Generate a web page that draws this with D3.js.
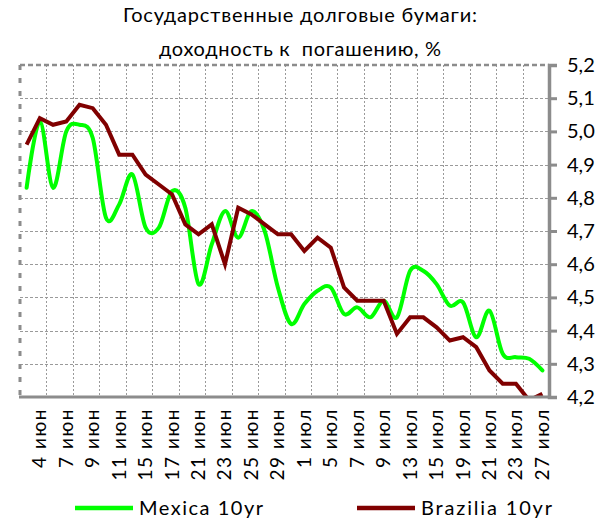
<!DOCTYPE html>
<html>
<head>
<meta charset="utf-8">
<script src="https://cdn.jsdelivr.net/npm/d3@7"></script>
<style>
  html, body { margin: 0; padding: 0; background: #fff; }
  svg { display: block; }
  text { font-family: Lato, "Open Sans", sans-serif; fill: #000; }
  text.title { white-space: pre; }
</style>
</head>
<body>
<svg id="chart" width="606" height="524"></svg>
<script>
const titleLines = ["Государственные долговые бумаги:", "доходность к  погашению, %"];

const categories = [
  "3 июн","4 июн","6 июн","7 июн","8 июн","9 июн","10 июн","11 июн","14 июн","15 июн",
  "16 июн","17 июн","18 июн","21 июн","22 июн","23 июн","24 июн","25 июн","28 июн","29 июн",
  "30 июн","1 июл","2 июл","5 июл","6 июл","7 июл","8 июл","9 июл","12 июл","13 июл",
  "14 июл","15 июл","16 июл","19 июл","20 июл","21 июл","22 июл","23 июл","26 июл","27 июл"
];

const tickLabels = [
  "4 июн","7 июн","9 июн","11 июн","15 июн","17 июн","21 июн","23 июн","25 июн","29 июн",
  "1 июл","5 июл","7 июл","9 июл","13 июл","15 июл","19 июл","21 июл","23 июл","27 июл"
];

const yTicks = [4.2, 4.3, 4.4, 4.5, 4.6, 4.7, 4.8, 4.9, 5.0, 5.1, 5.2];

const seriesNames = ["Mexica 10yr", "Brazilia 10yr"];

const mexico = [
  4.83, 5.03, 4.83, 5.00, 5.02, 4.98, 4.74, 4.78, 4.87, 4.71,
  4.71, 4.82, 4.77, 4.54, 4.66, 4.76, 4.68, 4.76, 4.70, 4.53,
  4.42, 4.48, 4.52, 4.53, 4.45, 4.47, 4.44, 4.49, 4.44, 4.58,
  4.58, 4.54, 4.475, 4.485, 4.38, 4.46, 4.33, 4.32, 4.315, 4.28
];

const brazil = [
  4.96, 5.04, 5.02, 5.03, 5.08, 5.07, 5.02, 4.93, 4.93, 4.87,
  4.84, 4.81, 4.72, 4.69, 4.72, 4.60, 4.77, 4.75, 4.72, 4.69,
  4.69, 4.64, 4.68, 4.65, 4.53, 4.49, 4.49, 4.49, 4.39, 4.44,
  4.44, 4.41, 4.37, 4.38, 4.35, 4.28, 4.24, 4.24, 4.19, 4.21
];

const colors = ["#00ff00", "#800000"];

const svg = d3.select("#chart");
const L = 20, R = 549, T = 65, B = 397;

const x = d3.scaleBand().domain(categories).range([L, R]).padding(0);
const y = d3.scaleLinear().domain([4.2, 5.2]).range([B, T]);
const cx = c => x(c) + x.bandwidth() / 2;

// title
svg.selectAll("text.title").data(titleLines).join("text")
  .attr("class", "title")
  .attr("x", 300)
  .attr("y", (d, i) => i === 0 ? 22 : 56)
  .attr("text-anchor", "middle")
  .attr("font-size", 20)
  .attr("textLength", (d, i) => i === 0 ? 354 : 282)
  .attr("lengthAdjust", "spacing")
  .text(d => d);

// horizontal grid
svg.append("g")
  .selectAll("line").data(yTicks.filter(v => v > 4.2 && v < 5.2)).join("line")
  .attr("x1", L).attr("x2", R)
  .attr("y1", d => Math.round(y(d)) + 0.5).attr("y2", d => Math.round(y(d)) + 0.5)
  .attr("stroke", "#9a9a9a").attr("stroke-width", 1)
  .attr("stroke-dasharray", "3,2");

// vertical grid (every second category boundary)
const vBounds = categories.filter((c, i) => i > 0 && i % 2 === 0);
svg.append("g")
  .selectAll("line").data(vBounds).join("line")
  .attr("x1", d => Math.round(x(d)) + 0.5).attr("x2", d => Math.round(x(d)) + 0.5)
  .attr("y1", T).attr("y2", B)
  .attr("stroke", "#9a9a9a").attr("stroke-width", 1)
  .attr("stroke-dasharray", "2,2");

// plot-area top and left borders (dashed)
svg.append("line").attr("x1", L).attr("x2", R).attr("y1", T).attr("y2", T)
  .attr("stroke", "#8c8c8c").attr("stroke-width", 2.5).attr("stroke-dasharray", "5,3");
svg.append("line").attr("x1", L).attr("x2", L).attr("y1", T).attr("y2", B)
  .attr("stroke", "#8c8c8c").attr("stroke-width", 3).attr("stroke-dasharray", "5,8");

// clip
svg.append("clipPath").attr("id", "clip")
  .append("rect").attr("x", L).attr("y", T).attr("width", R - L).attr("height", B - T);

const gLines = svg.append("g").attr("clip-path", "url(#clip)");

const lineSmooth = d3.line()
  .x((d, i) => cx(categories[i]))
  .y(d => y(d))
  .curve(d3.curveCardinal.tension(0));

const lineStraight = d3.line()
  .x((d, i) => cx(categories[i]))
  .y(d => y(d))
  .curve(d3.curveLinear);

gLines.append("path").datum(mexico)
  .attr("d", lineSmooth)
  .attr("fill", "none").attr("stroke", colors[0]).attr("stroke-width", 4)
  .attr("stroke-linejoin", "round").attr("stroke-linecap", "round");

gLines.append("path").datum(brazil)
  .attr("d", lineStraight)
  .attr("fill", "none").attr("stroke", colors[1]).attr("stroke-width", 4)
  .attr("stroke-linejoin", "miter").attr("stroke-linecap", "butt");

// bottom axis
const xAxis = d3.axisBottom(x).tickValues(tickLabels).tickSize(0).tickPadding(0);
const gx = svg.append("g").attr("transform", `translate(0,${B})`).call(xAxis);
gx.select(".domain").remove();
gx.selectAll("text")
  .attr("font-family", "Lato, 'Open Sans', sans-serif")
  .attr("font-size", 19)
  .attr("fill", "#000")
  .attr("letter-spacing", 1.5)
  .attr("text-anchor", "end")
  .attr("dy", null)
  .attr("transform", "translate(-1,11) rotate(-90)")
  .attr("x", 0).attr("y", 0)
  .attr("dominant-baseline", "central");
svg.append("line").attr("x1", L - 1).attr("x2", R).attr("y1", B).attr("y2", B)
  .attr("stroke", "#8c8c8c").attr("stroke-width", 3);

// right axis
const yAxis = d3.axisRight(y).tickValues(yTicks).tickSize(8).tickPadding(10)
  .tickFormat(d => d3.format(".1f")(d).replace(".", ","));
const gy = svg.append("g").attr("transform", `translate(${R},0)`).call(yAxis);
gy.select(".domain").attr("stroke", "#8c8c8c").attr("stroke-width", 3.5);
gy.selectAll(".tick line").attr("stroke", "#8c8c8c").attr("stroke-width", 3);
gy.selectAll(".tick text")
  .attr("font-family", "Lato, 'Open Sans', sans-serif")
  .attr("font-size", 20).attr("fill", "#000");

// legend
const legendX = [75, 357];
const legendTextLen = [124, 131];
const lg = svg.append("g");
seriesNames.forEach((name, i) => {
  lg.append("line")
    .attr("x1", legendX[i]).attr("x2", legendX[i] + 58)
    .attr("y1", 508).attr("y2", 508)
    .attr("stroke", colors[i]).attr("stroke-width", 4.5);
  lg.append("text")
    .attr("x", legendX[i] + 64).attr("y", 515)
    .attr("font-size", 20)
    .attr("textLength", legendTextLen[i]).attr("lengthAdjust", "spacing")
    .text(name);
});
</script>
</body>
</html>
